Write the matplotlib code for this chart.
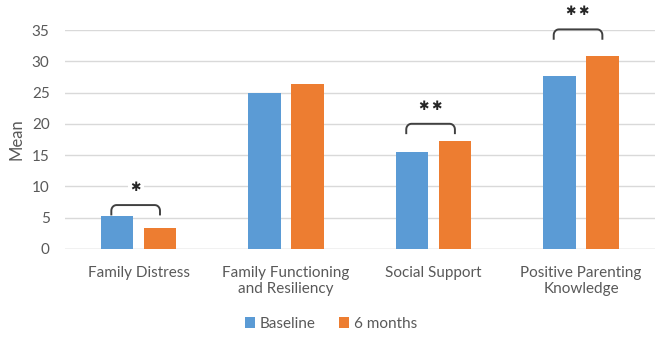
import numpy as np
import matplotlib.pyplot as plt

plt.rcParams['font.family'] = ['Lato', 'DejaVu Sans']

categories = ['Family Distress', 'Family Functioning\nand Resiliency', 'Social Support',
              'Positive Parenting\nKnowledge']
baseline = [5.3, 24.9, 15.5, 27.6]
six_months = [3.3, 26.4, 17.2, 30.8]
stars = ['\u2731', '', '\u2731\u2009\u2731', '\u2731\u2009\u2731']
bracket_y = [7.0, None, 20.0, 35.1]

grey = '#595959'
fig = plt.figure(figsize=(6.62, 3.49), dpi=100)
ax = fig.add_axes([0.098, 0.287, 0.891, 0.627])

x = np.arange(len(categories))
w = 0.22
off = 0.145
ax.bar(x - off, baseline, w, color='#5B9BD5', label='Baseline', zorder=3)
ax.bar(x + off, six_months, w, color='#ED7D31', label='6 months', zorder=3)

# significance brackets with rounded corners
rx, ry, drop = 0.035, 0.9, 1.5
t = np.linspace(0, np.pi / 2, 8)
for i in range(len(categories)):
    if not stars[i]:
        continue
    yb = bracket_y[i]
    x0 = x[i] - off - 0.04
    x1 = x[i] + off
    lx = np.concatenate([[x0], x0 + rx - rx * np.cos(t), x1 - rx + rx * np.sin(t), [x1]])
    ly = np.concatenate([[yb - drop], yb - ry + ry * np.sin(t), yb - ry + ry * np.cos(t), [yb - drop]])
    ax.plot(lx, ly, color='#404040', lw=1.4, clip_on=False, zorder=4)
    ax.text((x0 + x1) / 2, yb + 2.8, stars[i], ha='center', va='center', fontsize=9,
            family='DejaVu Sans', color='#262626', clip_on=False, zorder=4,
            bbox=dict(facecolor='white', edgecolor='none', pad=2))

ax.set_xlim(-0.5, len(categories) - 0.5)
ax.set_ylim(0, 35)
ax.set_yticks(np.arange(0, 36, 5))
ax.yaxis.grid(True, color='#d9d9d9', lw=1, zorder=0)
for s in ax.spines.values():
    s.set_visible(False)
ax.axhline(0, color='#d9d9d9', lw=1, zorder=2)
ax.tick_params(length=0, labelsize=11, colors=grey, pad=11)
ax.set_xticks(x)
ax.set_xticklabels(categories, va='top')
ax.tick_params(axis='x', pad=12)
ax.set_ylabel('Mean', fontsize=12, color=grey, labelpad=5)

fig.legend(loc='center', bbox_to_anchor=(0.5, 0.072), ncol=2, frameon=False, fontsize=11,
           handlelength=0.7, handleheight=0.7, handletextpad=0.3, columnspacing=1.5,
           labelcolor=grey)

fig.savefig('out.png', dpi=100)
